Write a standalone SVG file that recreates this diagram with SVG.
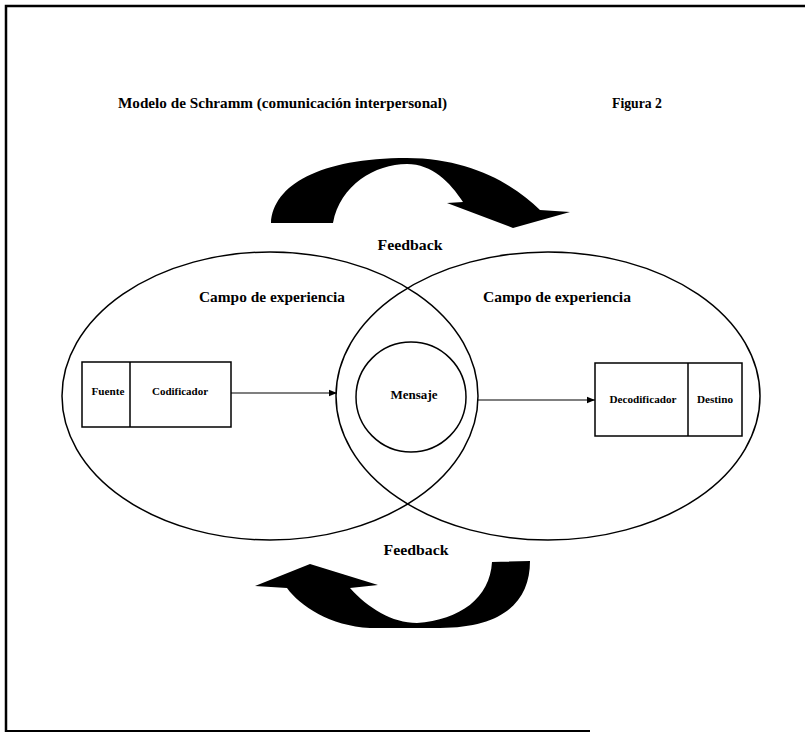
<svg xmlns="http://www.w3.org/2000/svg" width="805" height="734" viewBox="0 0 805 734">
<defs>
<style>
.t{font-family:"Liberation Serif","Times New Roman",serif;font-weight:bold;fill:#000}
.s{fill:none;stroke:#000;stroke-width:1.5}
.b{fill:#fff;stroke:#000;stroke-width:1.5}
.k{fill:#000;stroke:none}
</style>
<marker id="ah" viewBox="0 0 10 10" refX="10" refY="5" markerWidth="8" markerHeight="8" markerUnits="userSpaceOnUse" orient="auto">
<path d="M0,1 L10,5 L0,9 Z" fill="#000"/>
</marker>
</defs>
<rect x="0" y="0" width="805" height="734" fill="#fff"/>
<g id="frame">
<path d="M6,732 L6,6 L805,6" fill="none" stroke="#000" stroke-width="2.5"/>
<path d="M6,731 L590,731" fill="none" stroke="#000" stroke-width="2"/>
</g>
<g id="title">
<text class="t" x="118" y="108" font-size="15" textLength="329" lengthAdjust="spacingAndGlyphs">Modelo de Schramm (comunicación interpersonal)</text>
<text class="t" x="612" y="108" font-size="14" textLength="50" lengthAdjust="spacingAndGlyphs">Figura 2</text>
</g>
<g id="campo-izq">
<ellipse class="s" cx="270" cy="396" rx="208" ry="144"/>
<text class="t" x="272" y="302" font-size="15" text-anchor="middle" textLength="146" lengthAdjust="spacingAndGlyphs">Campo de experiencia</text>
</g>
<g id="campo-der">
<ellipse class="s" cx="548" cy="396" rx="212" ry="144"/>
<text class="t" x="557" y="302" font-size="15" text-anchor="middle" textLength="148" lengthAdjust="spacingAndGlyphs">Campo de experiencia</text>
</g>
<g id="mensaje">
<circle class="s" cx="411" cy="397" r="55"/>
<text class="t" x="414" y="399" font-size="12" text-anchor="middle" textLength="47" lengthAdjust="spacingAndGlyphs">Mensaje</text>
</g>
<g id="emisor">
<rect class="b" x="82" y="362" width="149" height="65"/>
<line class="s" x1="130" y1="362" x2="130" y2="427"/>
<text class="t" x="108" y="395" font-size="10" text-anchor="middle" textLength="33" lengthAdjust="spacingAndGlyphs">Fuente</text>
<text class="t" x="180" y="395" font-size="10" text-anchor="middle" textLength="56" lengthAdjust="spacingAndGlyphs">Codificador</text>
</g>
<g id="receptor">
<rect class="b" x="595" y="363" width="147" height="73"/>
<line class="s" x1="688" y1="363" x2="688" y2="436"/>
<text class="t" x="643" y="403" font-size="10" text-anchor="middle" textLength="67" lengthAdjust="spacingAndGlyphs">Decodificador</text>
<text class="t" x="715" y="403" font-size="10" text-anchor="middle" textLength="36" lengthAdjust="spacingAndGlyphs">Destino</text>
</g>
<g id="connectors">
<line x1="231" y1="393" x2="337" y2="393" stroke="#000" stroke-width="1.2" marker-end="url(#ah)"/>
<line x1="478" y1="400" x2="595" y2="400" stroke="#000" stroke-width="1.2" marker-end="url(#ah)"/>
</g>
<g id="feedback-sup">
<path class="k" d="M271,223 C273,185 320,158 407,158 C470,158 515,185 540,210 L570,212 L513,228 L447,203 L463,202 C450,182 432,164 407,164 C375,164 340,185 333,223 Z"/>
<text class="t" x="410" y="250" font-size="14" text-anchor="middle" textLength="65" lengthAdjust="spacingAndGlyphs">Feedback</text>
</g>
<g id="feedback-inf">
<path class="k" d="M530,561 C530,600 505,628 440,628 L370,628 C330,626 300,606 287,588 L255,586 L310,564 L378,585 L350,588 C368,608 392,623 417,623 C460,620 490,598 492,562 Z"/>
<text class="t" x="416" y="555" font-size="14" text-anchor="middle" textLength="65" lengthAdjust="spacingAndGlyphs">Feedback</text>
</g>
</svg>
